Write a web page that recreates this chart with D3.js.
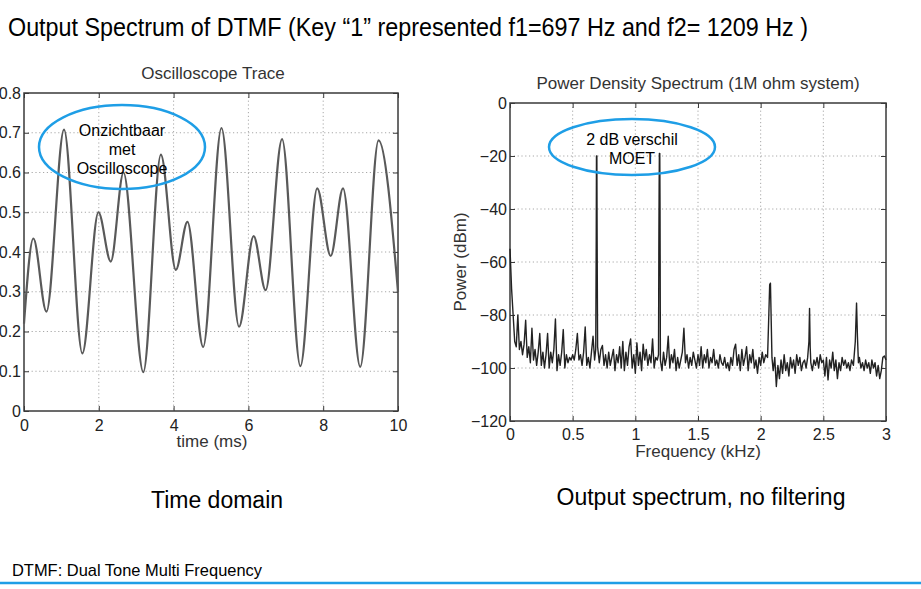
<!DOCTYPE html>
<html>
<head>
<meta charset="utf-8">
<script src="https://cdn.jsdelivr.net/npm/d3@7"></script>
<style>
  html, body { margin: 0; padding: 0; background: #fff; }
  svg { display: block; font-family: "Liberation Sans", Arial, sans-serif; }
</style>
</head>
<body>
<svg id="chart" width="921" height="589"></svg>
<script>
// ---------- DATA ----------
// Oscilloscope trace: extrema (time in ms, amplitude)
const traceTime  = [0, 0.25, 0.6, 1.07, 1.56, 1.99, 2.32, 2.66, 3.19, 3.66, 4.06, 4.37, 4.79, 5.28, 5.75, 6.14, 6.46, 6.90, 7.39, 7.84, 8.20, 8.53, 8.99, 9.48, 10.0];
const traceValue = [0.22, 0.434, 0.25, 0.708, 0.145, 0.50, 0.376, 0.60, 0.098, 0.645, 0.355, 0.476, 0.161, 0.712, 0.212, 0.44, 0.304, 0.684, 0.113, 0.56, 0.39, 0.56, 0.111, 0.681, 0.30];
const timeTicks  = [0, 2, 4, 6, 8, 10];
const ampTicks   = [0, 0.1, 0.2, 0.3, 0.4, 0.5, 0.6, 0.7, 0.8];

// Power density spectrum: [frequency kHz, power dBm]
const spectrum = [
  [0,-55],[0.0125,-70],[0.025,-80],[0.0375,-90],[0.05,-92],[0.0625,-80],[0.075,-93],[0.0875,-90],
  [0.1,-95],[0.1125,-91],[0.125,-82],[0.1375,-96],[0.15,-92],[0.1625,-98],[0.175,-85],[0.1875,-97],
  [0.2,-93],[0.2125,-99],[0.225,-94],[0.2375,-87],[0.25,-99],[0.2625,-94],[0.275,-100],[0.2875,-95],
  [0.3,-87],[0.3125,-100],[0.325,-94],[0.3375,-98],[0.35,-93],[0.3625,-81.5],[0.375,-101],[0.3875,-95],
  [0.4,-99],[0.4125,-94],[0.425,-85.5],[0.4375,-100],[0.45,-95],[0.4625,-98],[0.475,-96],[0.4875,-97],
  [0.5,-95],[0.5125,-97],[0.525,-93],[0.5375,-87],[0.55,-97],[0.5625,-95],[0.575,-99],[0.5875,-94],
  [0.6,-84.5],[0.6125,-99],[0.625,-96],[0.6375,-100],[0.65,-94],[0.6625,-88],[0.675,-97],[0.684,-93],
  [0.688,-52],[0.690,-20],[0.693,-20],[0.695,-50],[0.699,-92],
  [0.7125,-98],[0.725,-93],[0.7375,-91.5],[0.75,-99],[0.7625,-95],[0.775,-100],[0.7875,-94],
  [0.8,-99],[0.8125,-96],[0.825,-93],[0.8375,-101],[0.85,-95],[0.8625,-98],[0.875,-92],[0.8875,-100],
  [0.9,-90],[0.9125,-101],[0.925,-94],[0.9375,-99],[0.95,-92],[0.9625,-89],[0.975,-100],[0.9875,-95],
  [1.0,-102],[1.0125,-90.5],[1.025,-99],[1.0375,-94],[1.05,-101],[1.0625,-91],[1.075,-97],[1.0875,-93],
  [1.1,-99],[1.1125,-95],[1.125,-98],[1.1375,-89],[1.15,-100],[1.1625,-96],[1.175,-97],[1.185,-95],
  [1.188,-50],[1.190,-31],[1.192,-19],[1.195,-19],[1.197,-40],[1.2,-97],
  [1.2125,-101],[1.225,-94],[1.2375,-99],[1.25,-96],[1.2625,-88],[1.275,-100],[1.2875,-95],
  [1.3,-98],[1.3125,-93],[1.325,-101],[1.3375,-96],[1.35,-100],[1.3625,-97],[1.375,-94],[1.3875,-85],
  [1.4,-98],[1.4125,-95],[1.425,-100],[1.4375,-96],[1.45,-99],[1.4625,-94],[1.475,-97],[1.4875,-100],
  [1.5,-95],[1.5125,-99],[1.525,-92],[1.5375,-100],[1.55,-95],[1.5625,-98],[1.575,-93],[1.5875,-100],
  [1.6,-96],[1.6125,-98],[1.625,-93],[1.6375,-99],[1.65,-97],[1.6625,-100],[1.675,-95],[1.6875,-98],
  [1.7,-99],[1.7125,-96],[1.725,-100],[1.7375,-98],[1.75,-101],[1.7625,-96],[1.775,-99],[1.7875,-93],
  [1.8,-91],[1.8125,-99],[1.825,-95],[1.8375,-101],[1.85,-93],[1.8625,-99],[1.875,-96],[1.8875,-92],
  [1.9,-101],[1.9125,-95],[1.925,-98],[1.9375,-93],[1.95,-100],[1.9625,-97],[1.975,-102],[1.9875,-96],
  [2.0,-99],[2.0125,-94],[2.025,-98],[2.04,-95],[2.055,-96],
  [2.065,-80],[2.072,-68.5],[2.078,-68],[2.084,-82],[2.09,-96],
  [2.1,-101],[2.1125,-96],[2.125,-107],[2.1375,-99],[2.15,-104],[2.1625,-97],[2.175,-102],[2.1875,-95],
  [2.2,-101],[2.2125,-98],[2.225,-103],[2.2375,-96],[2.25,-100],[2.2625,-97],[2.275,-102],[2.2875,-95],
  [2.3,-99],[2.3125,-96],[2.325,-101],[2.3375,-98],[2.35,-97],[2.3625,-100],[2.375,-96],
  [2.385,-90],[2.39,-77.5],[2.395,-92],
  [2.4,-98],[2.4125,-101],[2.425,-97],[2.4375,-99],[2.45,-96],[2.4625,-100],[2.475,-95],[2.4875,-98],
  [2.5,-97],[2.5125,-103],[2.525,-96],[2.5375,-104.5],[2.55,-97],[2.5625,-100],[2.575,-94],[2.5875,-101],
  [2.6,-97],[2.6125,-104],[2.625,-98],[2.6375,-101],[2.65,-96],[2.6625,-99],[2.675,-97],[2.6875,-100],
  [2.7,-98],[2.7125,-101],[2.725,-97],[2.74,-99],
  [2.755,-90],[2.765,-75.5],[2.772,-88],[2.78,-98],
  [2.7875,-96],[2.8,-100],[2.8125,-98],[2.825,-101],[2.8375,-97],[2.85,-100],[2.8625,-98],[2.875,-102],
  [2.8875,-97],[2.9,-100],[2.9125,-98],[2.925,-103],[2.9375,-99],[2.95,-104],[2.9625,-101],[2.975,-96],
  [2.9875,-95.5],[3.0,-97]
];
const freqTicks  = [0, 0.5, 1, 1.5, 2, 2.5, 3];
const powerTicks = [0, -20, -40, -60, -80, -100, -120];

// ---------- DRAW ----------
const svg = d3.select("#chart");
const fontAxis = 16;
const gridColor = "#a8a8a8";
const frameColor = "#3a3a3a";
const blue = "#1e9ee6";

function fmtMinus(v) { return String(v).replace("-", "\u2212"); }

function drawPanel(opt) {
  const {x0, x1, y0, y1, xDomain, yDomain, xTicks, yTicks, xFmt, yFmt, padL, padB} = opt;
  const x = d3.scaleLinear().domain(xDomain).range([x0, x1]);
  const y = d3.scaleLinear().domain(yDomain).range([y1, y0]);
  const g = svg.append("g");

  // grid (dotted)
  g.append("g").selectAll("line").data(xTicks.filter(t => t !== xDomain[0] && t !== xDomain[1]))
    .join("line").attr("x1", d => x(d)).attr("x2", d => x(d)).attr("y1", y0).attr("y2", y1)
    .attr("stroke", gridColor).attr("stroke-width", 1).attr("stroke-dasharray", "1.2,2.6");
  g.append("g").selectAll("line").data(yTicks.filter(t => t !== yDomain[0] && t !== yDomain[1]))
    .join("line").attr("y1", d => y(d)).attr("y2", d => y(d)).attr("x1", x0).attr("x2", x1)
    .attr("stroke", gridColor).attr("stroke-width", 1).attr("stroke-dasharray", "1.2,2.6");

  // axes with inward ticks
  const axB = d3.axisBottom(x).tickValues(xTicks).tickFormat(xFmt).tickSize(-5).tickPadding(padB);
  const axL = d3.axisLeft(y).tickValues(yTicks).tickFormat(yFmt).tickSize(-5).tickPadding(padL);
  const axT = d3.axisTop(x).tickValues(xTicks).tickFormat("").tickSize(-5);
  const axR = d3.axisRight(y).tickValues(yTicks).tickFormat("").tickSize(-5);
  const gb = g.append("g").attr("transform", `translate(0,${y1})`).call(axB);
  const gl = g.append("g").attr("transform", `translate(${x0},0)`).call(axL);
  const gt = g.append("g").attr("transform", `translate(0,${y0})`).call(axT);
  const gr = g.append("g").attr("transform", `translate(${x1},0)`).call(axR);
  [gb, gl, gt, gr].forEach(a => {
    a.select(".domain").remove();
    a.selectAll("line").attr("stroke", frameColor);
    a.selectAll("text").attr("fill", "#222").style("font-size", fontAxis + "px")
      .style("font-family", "'Liberation Sans', Arial, sans-serif");
  });
  g.append("rect").attr("x", x0).attr("y", y0).attr("width", x1 - x0).attr("height", y1 - y0)
    .attr("fill", "none").attr("stroke", frameColor).attr("stroke-width", 1.5);
  return {g, x, y};
}

// ----- Left panel: Oscilloscope trace -----
const L = drawPanel({
  x0: 24, x1: 398, y0: 93, y1: 411,
  xDomain: [0, 10], yDomain: [0, 0.8],
  xTicks: timeTicks, yTicks: ampTicks,
  xFmt: d => d, yFmt: d => d === 0 ? "0" : d3.format(".1f")(d),
  padL: 3, padB: 9
});
const traceData = traceTime.map((t, i) => [t, traceValue[i]]);
L.g.append("path").datum(traceData)
  .attr("d", d3.line().x(d => L.x(d[0])).y(d => L.y(d[1])).curve(d3.curveMonotoneX))
  .attr("fill", "none").attr("stroke", "#595959").attr("stroke-width", 2.2);
svg.append("text").attr("x", 213).attr("y", 79).attr("text-anchor", "middle")
  .style("font-size", "17px").attr("fill", "#333").text("Oscilloscope Trace");
svg.append("text").attr("x", 212).attr("y", 447).attr("text-anchor", "middle")
  .style("font-size", "17px").attr("fill", "#333").text("time (ms)");

// ellipse annotation left
svg.append("ellipse").attr("cx", 122).attr("cy", 147).attr("rx", 83).attr("ry", 42)
  .attr("fill", "none").attr("stroke", blue).attr("stroke-width", 2.5);
[["Onzichtbaar", 136], ["met", 155], ["Oscilloscope", 174]].forEach(([t, yy]) =>
  svg.append("text").attr("x", 122).attr("y", yy).attr("text-anchor", "middle")
    .style("font-size", "16px").attr("fill", "#000").text(t));

// ----- Right panel: Power density spectrum -----
const R = drawPanel({
  x0: 510, x1: 886, y0: 103, y1: 421,
  xDomain: [0, 3], yDomain: [-120, 0],
  xTicks: freqTicks, yTicks: powerTicks,
  xFmt: d => d, yFmt: d => fmtMinus(d),
  padL: 3, padB: 8
});
R.g.append("path").datum(spectrum)
  .attr("d", d3.line().x(d => R.x(d[0])).y(d => R.y(d[1])))
  .attr("fill", "none").attr("stroke", "#222").attr("stroke-width", 1.4).attr("stroke-linejoin", "round");
svg.append("text").attr("x", 698).attr("y", 89).attr("text-anchor", "middle")
  .style("font-size", "17px").attr("fill", "#333").text("Power Density Spectrum (1M ohm system)");
svg.append("text").attr("x", 698).attr("y", 457).attr("text-anchor", "middle")
  .style("font-size", "17px").attr("fill", "#333").text("Frequency (kHz)");
svg.append("text").attr("transform", "translate(466,262) rotate(-90)").attr("text-anchor", "middle")
  .style("font-size", "17px").attr("fill", "#333").text("Power (dBm)");

// ellipse annotation right
svg.append("ellipse").attr("cx", 632).attr("cy", 147).attr("rx", 83).attr("ry", 28)
  .attr("fill", "none").attr("stroke", blue).attr("stroke-width", 2.5);
[["2 dB verschil", 145], ["MOET", 164]].forEach(([t, yy]) =>
  svg.append("text").attr("x", 632).attr("y", yy).attr("text-anchor", "middle")
    .style("font-size", "16px").attr("fill", "#000").text(t));

// ----- Slide texts -----
svg.append("text").attr("x", 8).attr("y", 36)
  .style("font-family", "'Liberation Sans Narrow', 'Liberation Sans', Arial, sans-serif")
  .style("font-size", "26px").attr("fill", "#000")
  .attr("textLength", 800).attr("lengthAdjust", "spacingAndGlyphs")
  .text("Output Spectrum of DTMF (Key \u201C1\u201D represented f1=697 Hz and f2= 1209 Hz )");
svg.append("text").attr("x", 217).attr("y", 508).attr("text-anchor", "middle")
  .style("font-size", "23px").attr("fill", "#000").text("Time domain");
svg.append("text").attr("x", 701).attr("y", 505).attr("text-anchor", "middle")
  .style("font-size", "23px").attr("fill", "#000").text("Output spectrum, no filtering");
svg.append("text").attr("x", 12).attr("y", 576)
  .style("font-family", "'Liberation Sans Narrow', 'Liberation Sans', Arial, sans-serif")
  .style("font-size", "17px").attr("fill", "#000")
  .attr("textLength", 250).attr("lengthAdjust", "spacingAndGlyphs")
  .text("DTMF: Dual Tone Multi Frequency");
svg.append("line").attr("x1", 0).attr("x2", 921).attr("y1", 583).attr("y2", 583)
  .attr("stroke", blue).attr("stroke-width", 2.5);
</script>
</body>
</html>
